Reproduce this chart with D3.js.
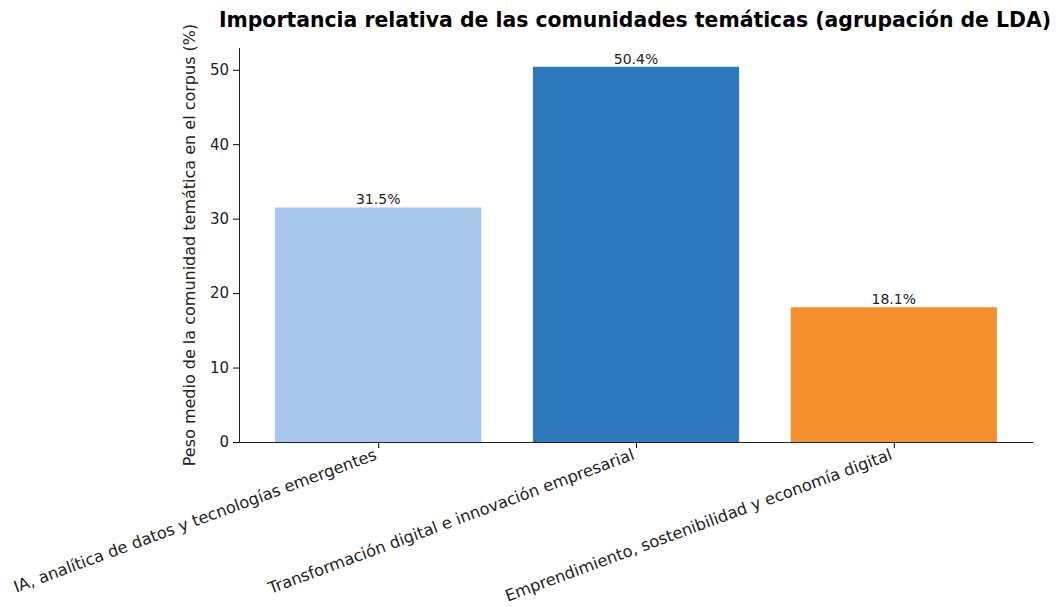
<!DOCTYPE html>
<html>
<head>
<meta charset="utf-8">
<script src="https://cdn.jsdelivr.net/npm/d3@7"></script>
<style>
  body { margin: 0; background: #fff; }
  svg text { font-family: "DejaVu Sans", sans-serif; }
</style>
</head>
<body>
<svg id="canvas" width="1058" height="607"></svg>
<script>
var categories = ["IA, analítica de datos y tecnologías emergentes",
  "Transformación digital e innovación empresarial",
  "Emprendimiento, sostenibilidad y economía digital"];
var values = [31.5, 50.4, 18.1];
var colors = ["#a7c6ed", "#2e78bc", "#f38f2e"];
var yTicks = [0, 10, 20, 30, 40, 50];

var margin = {top: 48, left: 239, right: 25, bottom: 165};
var width = 1058 - margin.left - margin.right;
var height = 607 - margin.top - margin.bottom;

var svg = d3.select("#canvas")
  .append("g")
  .attr("transform", "translate(" + margin.left + "," + margin.top + ")");

// matplotlib-like padding around the bars
var x = d3.scaleLinear().domain([-0.54, 2.54]).range([0, width]);
var y = d3.scaleLinear().domain([0, 50.4 * 1.05]).range([height, 0]);
var barW = x(0.8) - x(0);

svg.selectAll(".bar")
  .data(values)
  .enter().append("rect")
  .attr("class", "bar")
  .attr("x", function(d, i) { return x(i) - barW / 2; })
  .attr("y", function(d) { return y(d); })
  .attr("width", barW)
  .attr("height", function(d) { return height - y(d); })
  .style("fill", function(d, i) { return colors[i]; });

// value labels
svg.selectAll(".val")
  .data(values)
  .enter().append("text")
  .attr("class", "val")
  .attr("x", function(d, i) { return x(i); })
  .attr("y", function(d) { return y(d) - 3; })
  .attr("text-anchor", "middle")
  .style("font-size", "14px")
  .style("fill", "#222")
  .text(function(d) { return d.toFixed(1) + "%"; });

// y axis
var yAxis = d3.axisLeft(y).tickValues(yTicks).tickSize(6).tickPadding(4);
var gy = svg.append("g").call(yAxis).attr("font-family", null).attr("font-size", null);
gy.selectAll("text").style("font-size", "15px").style("fill", "#222");
gy.select(".domain").attr("stroke", "#222").attr("d", "M0.5," + height + "V0");

// x axis
var xAxis = d3.axisBottom(x).tickValues([0, 1, 2]).tickSize(6).tickFormat(function(d) { return categories[d]; });
var gx = svg.append("g").attr("transform", "translate(0," + height + ")").call(xAxis)
  .attr("font-family", null).attr("font-size", null);
gx.select(".domain").attr("d", "M0,0.5H" + width).attr("stroke", "#222");
gx.selectAll("text")
  .style("font-size", "16.2px")
  .style("fill", "#222")
  .attr("text-anchor", "end")
  .attr("dy", null)
  .attr("y", 0)
  .attr("transform", "translate(-1,17) rotate(-20.3)");

// y label
svg.append("text")
  .attr("transform", "translate(-44," + (height / 2) + ") rotate(-90)")
  .attr("text-anchor", "middle")
  .style("font-size", "16px")
  .style("fill", "#222")
  .text("Peso medio de la comunidad temática en el corpus (%)");

// title
svg.append("text")
  .attr("x", width / 2 - 1)
  .attr("y", -21)
  .attr("text-anchor", "middle")
  .style("font-size", "20.4px")
  .style("font-weight", "bold")
  .text("Importancia relativa de las comunidades temáticas (agrupación de LDA)");
</script>
</body>
</html>
